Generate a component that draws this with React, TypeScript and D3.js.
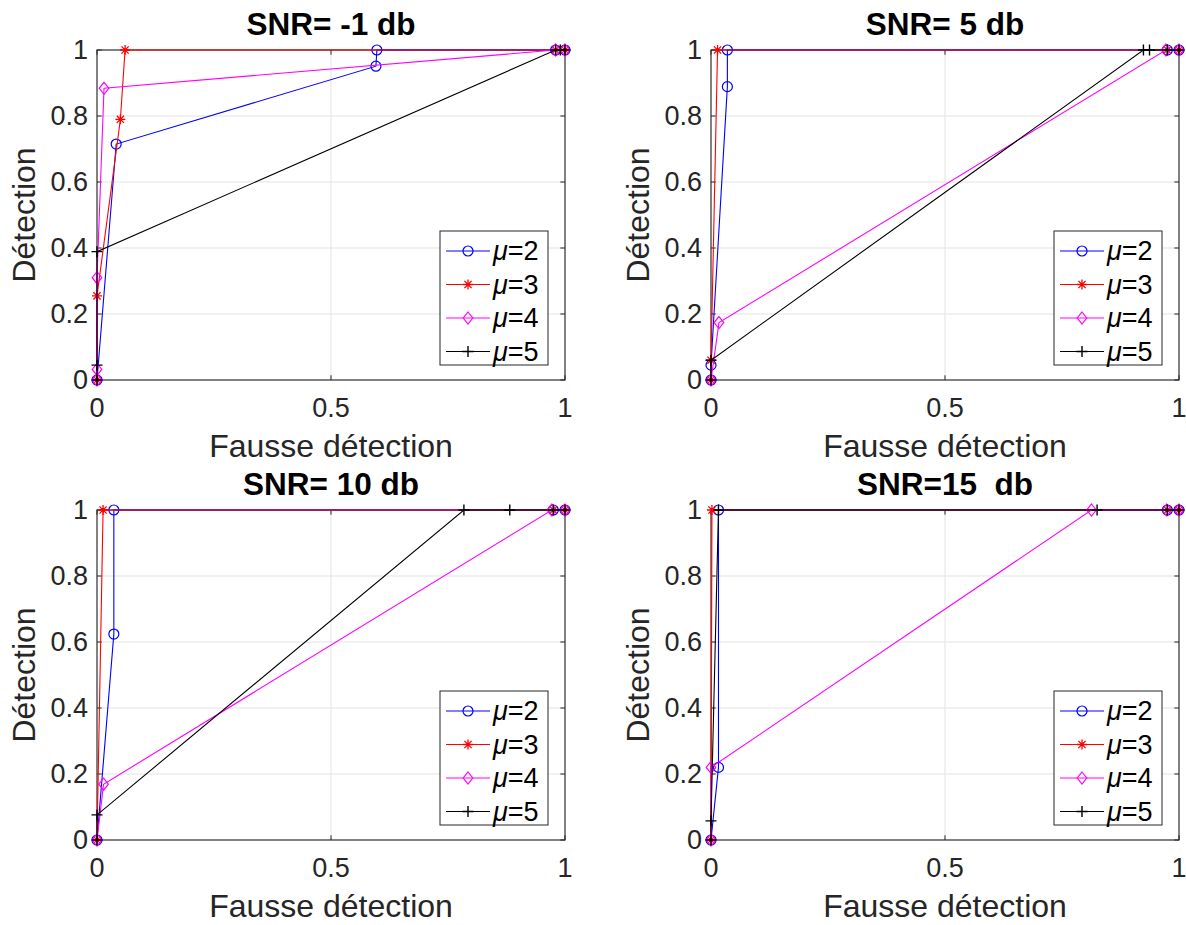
import React from "react";
import * as d3 from "d3";

const FONT = "'Liberation Sans', Arial, Helvetica, sans-serif";

// Titles and ticks
const panelTitles = ["SNR= -1 db", "SNR= 5 db", "SNR= 10 db", "SNR=15  db"];
const xTicks = [0, 0.5, 1];
const xTickLabels = ["0", "0.5", "1"];
const yTicks = [0, 0.2, 0.4, 0.6, 0.8, 1];
const yTickLabels = ["0", "0.2", "0.4", "0.6", "0.8", "1"];
const seriesLabels = ["2", "3", "4", "5"];
const seriesColors = ["#0000ff", "#ff0000", "#ff00ff", "#000000"];
const seriesMarkers = ["circle", "star", "diamond", "plus"];
const xLabel = "Fausse détection";
const yLabel = "Détection";

// SNR = -1 db  ([fausse détection, détection])
const snrM1Mu2 = [[0, 0], [0.041, 0.715], [0.596, 0.951], [0.598, 1], [0.98, 1], [1, 1]];
const snrM1Mu3 = [[0, 0], [0, 0.255], [0.05, 0.79], [0.06, 1], [0.98, 1], [1, 1]];
const snrM1Mu4 = [[0, 0], [0, 0.032], [0, 0.31], [0.015, 0.884], [0.98, 1], [1, 1]];
const snrM1Mu5 = [[0, 0], [0, 0.045], [0, 0.389], [0.98, 1], [0.99, 1], [1, 1]];

// SNR = 5 db
const snr5Mu2 = [[0, 0], [0, 0.045], [0.035, 0.889], [0.035, 1], [0.975, 1], [1, 1]];
const snr5Mu3 = [[0, 0], [0, 0.06], [0.014, 1], [0.975, 1], [1, 1]];
const snr5Mu4 = [[0, 0], [0.017, 0.174], [0.972, 1], [1, 1]];
const snr5Mu5 = [[0, 0], [0, 0.06], [0.924, 1], [0.937, 1], [0.975, 1], [1, 1]];

// SNR = 10 db
const snr10Mu2 = [[0, 0], [0.036, 0.624], [0.036, 1], [0.975, 1], [1, 1]];
const snr10Mu3 = [[0, 0], [0.013, 1], [0.975, 1], [1, 1]];
const snr10Mu4 = [[0, 0], [0.014, 0.169], [0.972, 1], [1, 1]];
const snr10Mu5 = [[0, 0], [0, 0.076], [0.784, 1], [0.882, 1], [0.975, 1], [1, 1]];

// SNR = 15 db
const snr15Mu2 = [[0, 0], [0.016, 0.22], [0.016, 1], [0.975, 1], [1, 1]];
const snr15Mu3 = [[0, 0], [0.002, 1], [0.975, 1], [1, 1]];
const snr15Mu4 = [[0, 0], [0, 0.22], [0.813, 1], [0.974, 1], [1, 1]];
const snr15Mu5 = [[0, 0], [0, 0.058], [0.016, 1], [0.825, 1], [0.975, 1], [1, 1]];

const panelData = [
  [snrM1Mu2, snrM1Mu3, snrM1Mu4, snrM1Mu5],
  [snr5Mu2, snr5Mu3, snr5Mu4, snr5Mu5],
  [snr10Mu2, snr10Mu3, snr10Mu4, snr10Mu5],
  [snr15Mu2, snr15Mu3, snr15Mu4, snr15Mu5],
];

// layout
const W = 1186;
const H = 925;
const PW = 468;
const PH = 330;
const panelOrigins = [
  [97, 50],
  [711, 50],
  [97, 510],
  [711, 510],
];

const AXC = "#262626";

function Marker({ type, x, y, color }: { type: string; x: number; y: number; color: string }) {
  if (type === "circle") {
    return <circle cx={x} cy={y} r={5} fill="none" stroke={color} strokeWidth={1.2} />;
  }
  if (type === "diamond") {
    const w = 4.8, h = 6;
    return (
      <path
        d={`M${x},${y - h}L${x + w},${y}L${x},${y + h}L${x - w},${y}Z`}
        fill="none"
        stroke={color}
        strokeWidth={1.2}
      />
    );
  }
  if (type === "plus") {
    const s = 5.5;
    return (
      <path d={`M${x - s},${y}H${x + s}M${x},${y - s}V${y + s}`} stroke={color} strokeWidth={1.4} fill="none" />
    );
  }
  // star (asterisk)
  const s = 5;
  const d = s * 0.72;
  return (
    <path
      d={`M${x - s},${y}H${x + s}M${x},${y - s}V${y + s}M${x - d},${y - d}L${x + d},${y + d}M${x - d},${y + d}L${x + d},${y - d}`}
      stroke={color}
      strokeWidth={1.3}
      fill="none"
    />
  );
}

function Panel({ idx }: { idx: number }) {
  const [ox, oy] = panelOrigins[idx];
  const x = d3.scaleLinear().domain([0, 1]).range([ox, ox + PW]);
  const y = d3.scaleLinear().domain([0, 1]).range([oy + PH, oy]);
  const line = d3
    .line<number[]>()
    .x((d) => x(d[0]))
    .y((d) => y(d[1]));
  const series = panelData[idx];
  const tickLen = 4.7;

  // legend
  const lgW = 108;
  const lgH = 134;
  const lgX = ox + PW - 17 - lgW;
  const lgY = oy + PH - 15 - lgH;
  const rowH = 33.5;

  return (
    <g>
      {/* grid */}
      {yTicks.map((t, i) => (
        <line key={"gy" + i} x1={x(0)} x2={x(1)} y1={y(t)} y2={y(t)} stroke="#e3e3e3" strokeWidth={1} />
      ))}
      {xTicks.map((t, i) => (
        <line key={"gx" + i} x1={x(t)} x2={x(t)} y1={y(0)} y2={y(1)} stroke="#e3e3e3" strokeWidth={1} />
      ))}
      {/* ticks */}
      {yTicks.map((t, i) => (
        <g key={"ty" + i}>
          <line x1={x(0)} x2={x(0) + tickLen} y1={y(t)} y2={y(t)} stroke={AXC} />
          <line x1={x(1)} x2={x(1) - tickLen} y1={y(t)} y2={y(t)} stroke={AXC} />
          <text
            x={x(0) - 9}
            y={y(t)}
            textAnchor="end"
            dominantBaseline="central"
            fontSize={27}
            fill={AXC}
            fontFamily={FONT}
          >
            {yTickLabels[i]}
          </text>
        </g>
      ))}
      {xTicks.map((t, i) => (
        <g key={"tx" + i}>
          <line x1={x(t)} x2={x(t)} y1={y(0)} y2={y(0) - tickLen} stroke={AXC} />
          <line x1={x(t)} x2={x(t)} y1={y(1)} y2={y(1) + tickLen} stroke={AXC} />
          <text x={x(t)} y={y(0) + 37} textAnchor="middle" fontSize={27} fill={AXC} fontFamily={FONT}>
            {xTickLabels[i]}
          </text>
        </g>
      ))}
      {/* box */}
      <rect x={x(0)} y={y(1)} width={PW} height={PH} fill="none" stroke={AXC} strokeWidth={1.1} />
      {/* series */}
      {series.map((pts, si) => (
        <g key={"s" + si}>
          <path d={line(pts) || ""} fill="none" stroke={seriesColors[si]} strokeWidth={1.1} />
          {pts.map((p, pi) => (
            <Marker key={pi} type={seriesMarkers[si]} x={x(p[0])} y={y(p[1])} color={seriesColors[si]} />
          ))}
        </g>
      ))}
      {/* title */}
      <text
        x={(x(0) + x(1)) / 2}
        y={y(1) - 15}
        textAnchor="middle"
        fontSize={31.5}
        fontWeight="bold"
        fill="#000"
        fontFamily={FONT}
        style={{ whiteSpace: "pre" }}
        xmlSpace="preserve"
      >
        {panelTitles[idx]}
      </text>
      {/* axis labels */}
      <text x={(x(0) + x(1)) / 2} y={y(0) + 77} textAnchor="middle" fontSize={32} fill={AXC} fontFamily={FONT}>
        {xLabel}
      </text>
      <text
        transform={`translate(${x(0) - 62},${(y(0) + y(1)) / 2}) rotate(-90)`}
        textAnchor="middle"
        fontSize={32}
        fill={AXC}
        fontFamily={FONT}
      >
        {yLabel}
      </text>
      {/* legend */}
      <rect x={lgX} y={lgY} width={lgW} height={lgH} fill="#fff" stroke={AXC} strokeWidth={1} />
      {seriesLabels.map((lab, si) => {
        const cy = lgY + 20 + si * rowH;
        return (
          <g key={"lg" + si}>
            <line x1={lgX + 6} x2={lgX + 50} y1={cy} y2={cy} stroke={seriesColors[si]} strokeWidth={1.1} />
            <Marker type={seriesMarkers[si]} x={lgX + 28} y={cy} color={seriesColors[si]} />
            <text x={lgX + 53} y={cy} dominantBaseline="central" fontSize={27} fill="#000" fontFamily={FONT}>
              <tspan fontStyle="italic">μ</tspan>
              <tspan>={lab}</tspan>
            </text>
          </g>
        );
      })}
    </g>
  );
}

export default function App() {
  return (
    <svg
      width={W}
      height={H}
      viewBox={`0 0 ${W} ${H}`}
      style={{ position: "absolute", left: 0, top: 0, background: "#fff" }}
    >
      <rect x={0} y={0} width={W} height={H} fill="#fff" />
      {[0, 1, 2, 3].map((i) => (
        <Panel key={i} idx={i} />
      ))}
    </svg>
  );
}
